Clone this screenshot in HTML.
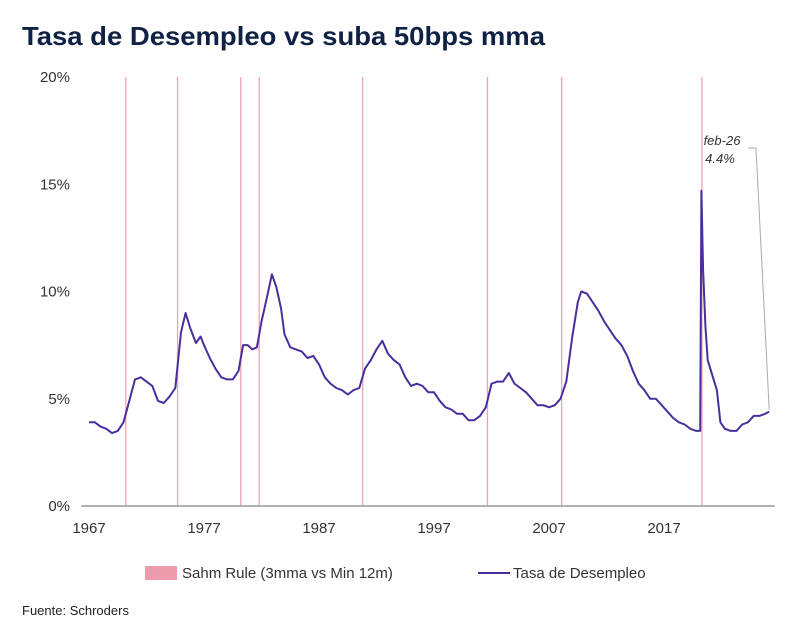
<!DOCTYPE html>
<html><head><meta charset="utf-8">
<style>
body{margin:0;background:#fff;width:800px;height:631px;overflow:hidden;font-family:"Liberation Sans",sans-serif;}
</style></head>
<body>
<svg id="chart" width="800" height="631" xmlns="http://www.w3.org/2000/svg">
<text x="22" y="45" font-size="26" font-weight="bold" fill="#0f2145" textLength="523" lengthAdjust="spacingAndGlyphs">Tasa de Desempleo vs suba 50bps mma</text>
<g id="sahm"></g>
<g id="yaxis"></g>
<g id="xaxis"></g>
<line x1="81" y1="506" x2="775" y2="506" stroke="#999" stroke-width="1.5"/>
<path id="uline" fill="none" stroke="#4a2f9c" stroke-width="2" stroke-linejoin="round"/>
<g>
<text x="722" y="145" font-size="13" font-style="italic" fill="#333" text-anchor="middle">feb-26</text>
<text x="720" y="163" font-size="13" font-style="italic" fill="#333" text-anchor="middle">4.4%</text>
<path id="anno" fill="none" stroke="#aaa" stroke-width="1"/>
</g>
<g>
<rect x="145" y="566" width="32" height="14" fill="#ec9aac"/>
<text x="182" y="578" font-size="15" fill="#333">Sahm Rule (3mma vs Min 12m)</text>
<line x1="478" y1="573" x2="510" y2="573" stroke="#4a2f9c" stroke-width="2"/>
<text x="513" y="578" font-size="15" fill="#333">Tasa de Desempleo</text>
</g>
<text x="22" y="615" font-size="13" fill="#222">Fuente: Schroders</text>
</svg>
<script>
const dates=[1967.0,1967.5,1968.0,1968.5,1969.0,1969.5,1970.0,1970.5,1971.0,1971.5,1972.0,1972.5,1973.0,1973.5,1974.0,1974.5,1975.0,1975.4,1975.8,1976.3,1976.7,1977.0,1977.5,1978.0,1978.5,1979.0,1979.5,1980.0,1980.4,1980.8,1981.2,1981.6,1982.0,1982.5,1982.9,1983.3,1983.7,1984.0,1984.5,1985.0,1985.5,1986.0,1986.5,1987.0,1987.5,1988.0,1988.5,1989.0,1989.5,1990.0,1990.5,1991.0,1991.5,1992.0,1992.5,1993.0,1993.5,1994.0,1994.5,1995.0,1995.5,1996.0,1996.5,1997.0,1997.5,1998.0,1998.5,1999.0,1999.5,2000.0,2000.5,2001.0,2001.5,2002.0,2002.5,2003.0,2003.5,2004.0,2004.5,2005.0,2005.5,2006.0,2006.5,2007.0,2007.5,2008.0,2008.5,2009.0,2009.5,2009.8,2010.3,2010.8,2011.3,2011.8,2012.3,2012.8,2013.3,2013.8,2014.3,2014.8,2015.3,2015.8,2016.3,2016.8,2017.3,2017.8,2018.3,2018.8,2019.3,2019.8,2020.15,2020.25,2020.4,2020.6,2020.8,2021.2,2021.6,2021.9,2022.3,2022.8,2023.3,2023.8,2024.3,2024.8,2025.3,2025.8,2026.15];
const rates=[3.9,3.9,3.7,3.6,3.4,3.5,3.9,4.9,5.9,6.0,5.8,5.6,4.9,4.8,5.1,5.5,8.1,9.0,8.3,7.6,7.9,7.5,6.9,6.4,6.0,5.9,5.9,6.3,7.5,7.5,7.3,7.4,8.6,9.8,10.8,10.2,9.2,8.0,7.4,7.3,7.2,6.9,7.0,6.6,6.0,5.7,5.5,5.4,5.2,5.4,5.5,6.4,6.8,7.3,7.7,7.1,6.8,6.6,6.0,5.6,5.7,5.6,5.3,5.3,4.9,4.6,4.5,4.3,4.3,4.0,4.0,4.2,4.6,5.7,5.8,5.8,6.2,5.7,5.5,5.3,5.0,4.7,4.7,4.6,4.7,5.0,5.8,7.8,9.5,10.0,9.9,9.5,9.1,8.6,8.2,7.8,7.5,7.0,6.3,5.7,5.4,5.0,5.0,4.7,4.4,4.1,3.9,3.8,3.6,3.5,3.5,14.7,11.0,8.4,6.8,6.1,5.4,3.9,3.6,3.5,3.5,3.8,3.9,4.2,4.2,4.3,4.4];
const sahmDates=[1970.2,1974.7,1980.2,1981.8,1990.8,2001.65,2008.1,2020.3];
const yTicks=[0,5,10,15,20];
const xTickYears=[1967,1977,1987,1997,2007,2017];
const NS="http://www.w3.org/2000/svg";
const x=d=>89+(d-1967)*11.5;
const y=v=>506-v*21.45;
const sg=document.getElementById('sahm');
sahmDates.forEach(d=>{const l=document.createElementNS(NS,'line');


l.setAttribute('x1',x(d));l.setAttribute('x2',x(d));l.setAttribute('y1',y(20));l.setAttribute('y2',y(0));
l.setAttribute('stroke','#eda2b2');l.setAttribute('stroke-width','1.3');sg.appendChild(l);});
const ya=document.getElementById('yaxis');
yTicks.forEach(v=>{const t=document.createElementNS(NS,'text');


t.setAttribute('x',70);t.setAttribute('y',y(v)+5);t.setAttribute('text-anchor','end');t.setAttribute('font-size','15');t.setAttribute('fill','#333');
t.textContent=v+'%';ya.appendChild(t);});
const xa=document.getElementById('xaxis');
xTickYears.forEach(v=>{const t=document.createElementNS(NS,'text');


t.setAttribute('x',x(v));t.setAttribute('y',533);t.setAttribute('text-anchor','middle');t.setAttribute('font-size','15');t.setAttribute('fill','#333');
t.textContent=v;xa.appendChild(t);});
document.getElementById('uline').setAttribute('d',dates.map((d,i)=>(i?'L':'M')+x(d).toFixed(1)+','+y(rates[i]).toFixed(1)).join(''));
const lx=x(dates[dates.length-1]),ly=y(rates[rates.length-1]);
document.getElementById('anno').setAttribute('d','M748,148L756,148L'+lx.toFixed(1)+','+(ly-2).toFixed(1));
</script>
</body></html>
